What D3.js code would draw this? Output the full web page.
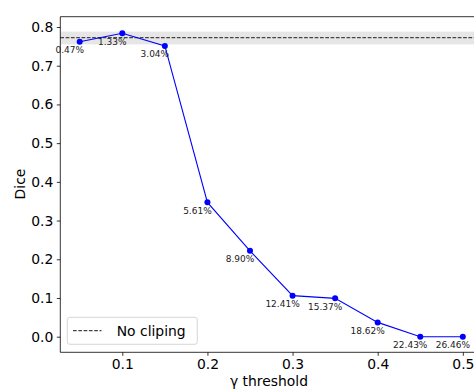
<!DOCTYPE html>
<html><head><meta charset="utf-8">
<script src="https://cdn.jsdelivr.net/npm/d3@7"></script>
<style>body{margin:0;background:#fff}svg{display:block}</style>
</head><body>
<svg id="c" width="474" height="390"></svg>
<script>
const gammas = [0.05,0.1,0.15,0.2,0.25,0.3,0.35,0.4,0.45,0.5];
const dice = [0.762,0.784,0.751,0.347,0.222,0.106,0.099,0.037,0.0,0.0];
const pctLabels = ["0.47%","1.33%","3.04%","5.61%","8.90%","12.41%","15.37%","18.62%","22.43%","26.46%"];
const noClip = 0.7726;
const noClipLo = 0.755, noClipHi = 0.788;
const xTicks = [0.1,0.2,0.3,0.4,0.5];
const yTicks = [0.0,0.1,0.2,0.3,0.4,0.5,0.6,0.7,0.8];

const svg = d3.select("#c");
const L = 60.3, R = 482, T = 16.7, B = 352.3;
const x = d3.scaleLinear().domain([0.0272, 0.5225]).range([L, R]);
const y = d3.scaleLinear().domain([-0.0403, 0.8266]).range([B, T]);
const font = "DejaVu Sans, sans-serif";

// band
svg.append("rect").attr("x", L).attr("width", R - L)
  .attr("y", y(noClipHi)).attr("height", y(noClipLo) - y(noClipHi))
  .attr("fill", "#e6e6e6");
// hline
svg.append("line").attr("x1", L).attr("x2", R).attr("y1", y(noClip)).attr("y2", y(noClip))
  .attr("stroke", "#444").attr("stroke-width", 1.3).attr("stroke-dasharray", "3.7,1.6");

// axes
const xAxis = svg.append("g").attr("transform", `translate(0,${B})`)
  .call(d3.axisBottom(x).tickValues(xTicks).tickFormat(d3.format(".1f")).tickSize(3.5).tickPadding(3.5));
const yAxis = svg.append("g").attr("transform", `translate(${L},0)`)
  .call(d3.axisLeft(y).tickValues(yTicks).tickFormat(d3.format(".1f")).tickSize(3.5).tickPadding(3.5));
[xAxis, yAxis].forEach(a => {
  a.select(".domain").remove();
  a.selectAll("line").attr("stroke", "#000").attr("stroke-width", 0.8);
  a.selectAll("text").attr("font-family", font).attr("font-size", 13.9).attr("fill", "#000");
});
// spines
svg.append("line").attr("x1", L).attr("x2", L).attr("y1", T).attr("y2", B).attr("stroke", "#000").attr("stroke-width", 0.8);
svg.append("line").attr("x1", L).attr("x2", R).attr("y1", B).attr("y2", B).attr("stroke", "#000").attr("stroke-width", 0.8);
svg.append("line").attr("x1", L).attr("x2", R).attr("y1", T).attr("y2", T).attr("stroke", "#000").attr("stroke-width", 0.8);

// line
const pts = gammas.map((g, i) => [g, dice[i]]);
svg.append("path").datum(pts)
  .attr("d", d3.line().x(d => x(d[0])).y(d => y(d[1])))
  .attr("fill", "none").attr("stroke", "#0000ff").attr("stroke-width", 1.1);
svg.selectAll("circle.pt").data(pts).enter().append("circle")
  .attr("cx", d => x(d[0])).attr("cy", d => y(d[1])).attr("r", 3).attr("fill", "#0000ff");
// annotations
svg.selectAll("text.ann").data(pts).enter().append("text")
  .attr("x", d => x(d[0]) - 10).attr("y", d => y(d[1]) + 11.5)
  .attr("text-anchor", "middle").attr("font-family", font).attr("font-size", 9)
  .attr("fill", "#222").text((d, i) => pctLabels[i]);

// axis labels
svg.append("text").attr("x", 269).attr("y", 386).attr("text-anchor", "middle")
  .attr("font-family", font).attr("font-size", 13.9).attr("fill", "#000").text("γ threshold");
svg.append("text").attr("transform", "translate(25,184) rotate(-90)").attr("text-anchor", "middle")
  .attr("font-family", font).attr("font-size", 13.9).attr("fill", "#000").text("Dice");

// legend
const lg = svg.append("g");
lg.append("rect").attr("x", 67.3).attr("y", 317.3).attr("width", 130).attr("height", 27).attr("rx", 2.5)
  .attr("fill", "#fff").attr("fill-opacity", 0.8).attr("stroke", "#ccc").attr("stroke-width", 0.8);
lg.append("line").attr("x1", 73).attr("x2", 101.5).attr("y1", 330.7).attr("y2", 330.7)
  .attr("stroke", "#444").attr("stroke-width", 1.3).attr("stroke-dasharray", "3.7,1.6");
lg.append("text").attr("x", 116.7).attr("y", 336).attr("font-family", font).attr("font-size", 13.9)
  .attr("fill", "#000").text("No cliping");
</script>
</body></html>
